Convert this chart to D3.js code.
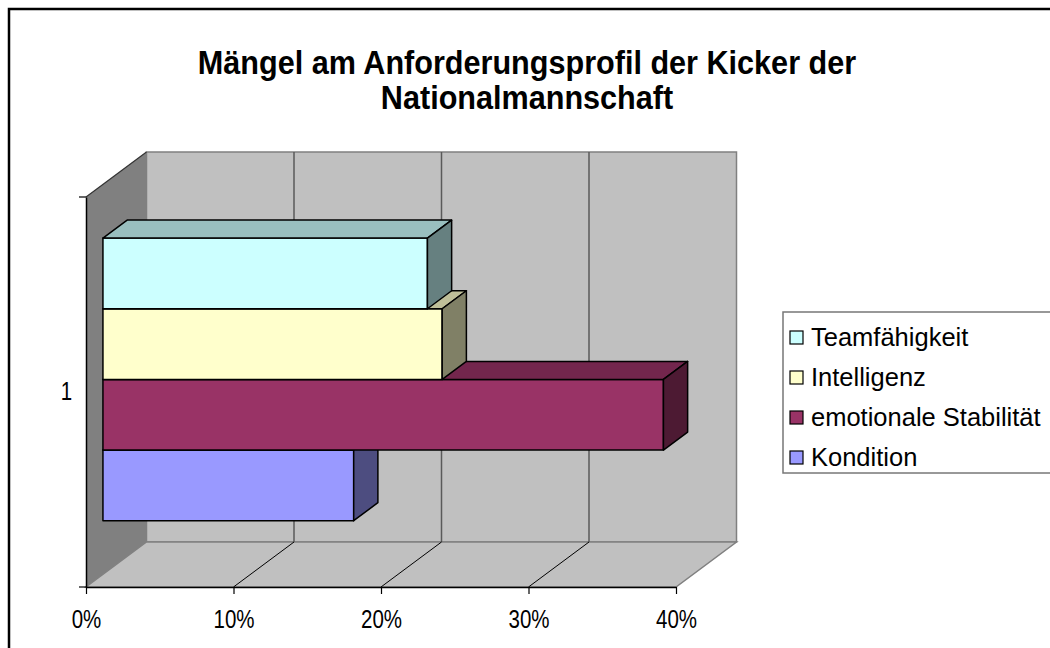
<!DOCTYPE html>
<html>
<head>
<meta charset="utf-8">
<script src="https://cdn.jsdelivr.net/npm/d3@7"></script>
<style>
  body { margin: 0; background: #fff; }
  text { font-family: "Liberation Sans", Arial, sans-serif; }
</style>
</head>
<body>
<svg id="chart" width="1050" height="648"></svg>
<script>
// Data
var categories = ["1"];
var seriesNames = ["Kondition", "emotionale Stabilität", "Intelligenz", "Teamfähigkeit"];
var seriesValues = [0.17, 0.38, 0.23, 0.22];
var frontColors = ["#9999FF", "#993366", "#FFFFCC", "#CCFFFF"];
var xTicks = [0, 0.1, 0.2, 0.3, 0.4];
var titleLines = ["Mängel am Anforderungsprofil der Kicker der", "Nationalmannschaft"];

var svg = d3.select("#chart");

// 3D depth offset
var DX = 60.5, DY = 45;
var dFront = 0.28, dBack = 0.68;

var x = d3.scaleLinear().domain([0, 0.4]).range([86, 676]);
var y = d3.scaleBand().domain(categories).range([197, 587]).paddingOuter(0.19);
var ySub = d3.scaleBand().domain(seriesNames.slice().reverse()).range([0, y.bandwidth()]);

var yTop = y.range()[0], yBot = y.range()[1];

function P(v, yy, d) {
    return [x(v) + d * DX, yy - d * DY];
}
function poly(pts) {
    return "M" + pts.map(p => p.join(",")).join("L") + "Z";
}

// chart area border
svg.append("rect")
    .attr("x", 9).attr("y", 9)
    .attr("width", 1100).attr("height", 700)
    .attr("fill", "none")
    .attr("stroke", "#000")
    .attr("stroke-width", 2.5);

// title (narrow, tall lettering like the original)
svg.append("g")
    .selectAll("text")
    .data(titleLines)
    .join("text")
    .attr("transform", (d, i) => "translate(527," + (74 + i * 35) + ") scale(0.9,1)")
    .attr("text-anchor", "middle")
    .style("font-size", "34px")
    .style("font-weight", "bold")
    .text(d => d);

var dom = x.domain();

// back wall
svg.append("path")
    .attr("d", poly([P(dom[0], yTop, 1), P(dom[1], yTop, 1), P(dom[1], yBot, 1), P(dom[0], yBot, 1)]))
    .attr("fill", "#C0C0C0")
    .attr("stroke", "#808080")
    .attr("stroke-width", 1.5);

// left wall
svg.append("path")
    .attr("d", poly([P(dom[0], yTop, 0), P(dom[0], yTop, 1), P(dom[0], yBot, 1), P(dom[0], yBot, 0)]))
    .attr("fill", "#808080")
    .attr("stroke", "none");
svg.append("line")
    .attr("x1", P(dom[0], yTop, 0)[0]).attr("y1", P(dom[0], yTop, 0)[1])
    .attr("x2", P(dom[0], yTop, 1)[0]).attr("y2", P(dom[0], yTop, 1)[1])
    .attr("stroke", "#333").attr("stroke-width", 1.2);

// floor
svg.append("path")
    .attr("d", poly([P(dom[0], yBot, 0), P(dom[0], yBot, 1), P(dom[1], yBot, 1), P(dom[1], yBot, 0)]))
    .attr("fill", "#C0C0C0")
    .attr("stroke", "#808080")
    .attr("stroke-width", 1.5);

// gridlines on back wall and floor
var inner = xTicks.filter(t => t > dom[0] && t < dom[1]);
svg.append("g").selectAll("line")
    .data(inner)
    .join("line")
    .attr("x1", d => P(d, yTop, 1)[0]).attr("y1", d => P(d, yTop, 1)[1])
    .attr("x2", d => P(d, yBot, 1)[0]).attr("y2", d => P(d, yBot, 1)[1])
    .attr("stroke", "#5a5a5a")
    .attr("stroke-width", 1.5);
svg.append("g").selectAll("line")
    .data(inner)
    .join("line")
    .attr("x1", d => P(d, yBot, 0)[0]).attr("y1", d => P(d, yBot, 0)[1])
    .attr("x2", d => P(d, yBot, 1)[0]).attr("y2", d => P(d, yBot, 1)[1])
    .attr("stroke", "#000")
    .attr("stroke-width", 1);

// bars: draw bottom series first so upper bars cover lower top faces
var shade = (c, k) => d3.rgb(c.r * k, c.g * k, c.b * k).toString();
var bars = svg.append("g");
seriesNames.forEach(function(name, i) {
    var v = seriesValues[i];
    var top = y(categories[0]) + ySub(name);
    var bot = top + ySub.bandwidth();
    var base = d3.rgb(frontColors[i]);
    var g = bars.append("g")
        .attr("stroke", "#000")
        .attr("stroke-width", 1.5)
        .attr("stroke-linejoin", "round");
    g.append("path")
        .attr("d", poly([P(0, top, dFront), P(v, top, dFront), P(v, bot, dFront), P(0, bot, dFront)]))
        .attr("fill", frontColors[i]);
    g.append("path")
        .attr("d", poly([P(0, top, dFront), P(v, top, dFront), P(v, top, dBack), P(0, top, dBack)]))
        .attr("fill", shade(base, 0.75));
    g.append("path")
        .attr("d", poly([P(v, top, dFront), P(v, top, dBack), P(v, bot, dBack), P(v, bot, dFront)]))
        .attr("fill", shade(base, 0.5));
});

// x axis
var xAxis = d3.axisBottom(x)
    .tickValues(xTicks)
    .tickFormat(d3.format(".0%"))
    .tickSize(7)
    .tickSizeOuter(0)
    .tickPadding(16);
var xg = svg.append("g")
    .attr("transform", "translate(0," + yBot + ")")
    .call(xAxis);
xg.select(".domain").attr("stroke", "#000").attr("stroke-width", 1.5);
xg.selectAll(".tick line").attr("stroke", "#000").attr("stroke-width", 1.2);
xg.selectAll("text")
    .attr("transform", "scale(0.82,1)")
    .style("font-size", "25px")
    .style("font-family", "'Liberation Sans', Arial, sans-serif")
    .attr("fill", "#000");

// y axis
var yAxis = d3.axisLeft(y).tickSize(0).tickPadding(17);
var yg = svg.append("g")
    .attr("transform", "translate(" + x(dom[0]) + ",0)")
    .call(yAxis);
yg.select(".domain").attr("stroke", "#000").attr("stroke-width", 1.5);
yg.selectAll("text")
    .attr("transform", "scale(0.82,1)")
    .style("font-size", "25px")
    .style("font-family", "'Liberation Sans', Arial, sans-serif")
    .attr("fill", "#000");
yg.selectAll(".edge")
    .data(y.range())
    .join("line")
    .attr("class", "edge")
    .attr("x1", -7).attr("x2", 0)
    .attr("y1", d => d).attr("y2", d => d)
    .attr("stroke", "#000")
    .attr("stroke-width", 1.2);

// legend
var legend = svg.append("g");
legend.append("rect")
    .attr("x", 783).attr("y", 312)
    .attr("width", 300).attr("height", 161)
    .attr("fill", "#fff")
    .attr("stroke", "#777")
    .attr("stroke-width", 1.5);
var legendOrder = seriesNames.map((n, i) => i).reverse();
var items = legend.selectAll(".item")
    .data(legendOrder)
    .join("g")
    .attr("class", "item")
    .attr("transform", (d, k) => "translate(790," + (337 + k * 40) + ")");
items.append("rect")
    .attr("x", 0).attr("y", -6)
    .attr("width", 13).attr("height", 13)
    .attr("fill", d => frontColors[d])
    .attr("stroke", "#000")
    .attr("stroke-width", 1.2);
items.append("text")
    .attr("x", 21)
    .attr("dy", "0.36em")
    .style("font-size", "25.5px")
    .text(d => seriesNames[d]);
</script>
</body>
</html>
